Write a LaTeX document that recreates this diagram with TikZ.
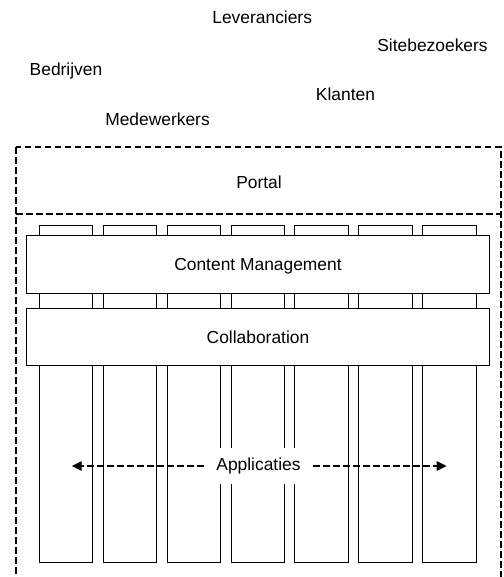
\documentclass[tikz,border=0pt]{standalone}
\usepackage{fontspec}
\setmainfont{Liberation Sans}
\usetikzlibrary{arrows.meta}
\begin{document}
\begin{tikzpicture}[x=.5pt, y=-.5pt, font=\fontsize{8.7}{10}\selectfont, line join=miter,
	>={Triangle[length=5pt,width=4.6pt]},
	kader/.style={line width=1pt, dash pattern=on 3.3pt off 1.7pt},
	kolom/.style={draw, line width=.5pt},
	laag/.style={draw, fill=white, line width=.5pt, minimum width=231.3pt, minimum height=29pt, text height=6.2pt, text depth=0pt, inner sep=0pt},
	groep/.style={anchor=base}]
	\def\kx{39.3} \def\kw{53.5} \def\kp{63.9}
	\def\ktop{225} \def\kbot{562.3}
	\useasboundingbox (0,0) rectangle (503,577);
	\clip (0,0) rectangle (503,577);
	% doelgroepen
	\node[groep] (lev) at (262.2,24) {Leveranciers};
	\node[groep] (site) at (432.5,51.5) {Sitebezoekers};
	\node[groep] (bedr) at (66,76) {Bedrijven};
	\node[groep] (klant) at (345.5,101) {Klanten};
	\node[groep] (medew) at (157.5,126) {Medewerkers};
	% portal en kader
	\draw[kader] (16,147) rectangle (500.7,600);
	\draw[kader] (16,214) -- (500.7,214);
	\node[groep] (portal) at (259,188.3) {Portal};
	% kolommen
	\foreach \i in {0,...,6} \draw[kolom] (\kx+\i*\kp,\ktop) rectangle (\kx+\i*\kp+\kw,\kbot);
	\node[laag] (cm) at (258,264) {Content Management};
	\node[laag, minimum height=28.9pt] (collab) at (258,337) {Collaboration};
	\node[fill=white, inner xsep=6pt, inner ysep=5pt] (apps) at (258.5,466) {Applicaties};
	\coordinate (appL) at (71.7,466); \coordinate (appR) at (446.7,466);
	\draw[kader,->] (apps) -- (appL);
	\draw[kader,->] (apps) -- (appR);
\end{tikzpicture}
\end{document}
